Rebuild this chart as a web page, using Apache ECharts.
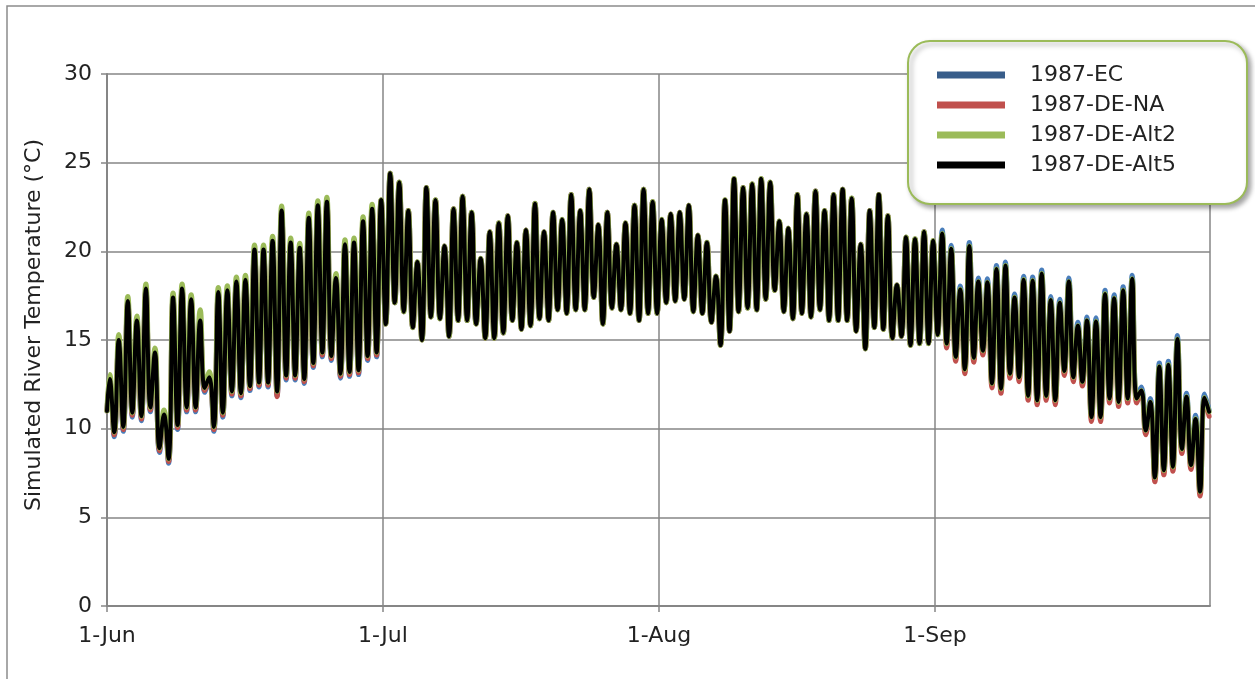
<!DOCTYPE html>
<html>
<head>
<meta charset="utf-8">
<script src="https://cdn.jsdelivr.net/npm/echarts@6/dist/echarts.min.js"></script>
<style>
html,body{margin:0;padding:0;background:#fff;}
#chart{width:1255px;height:679px;}
</style>
</head>
<body>
<div id="chart"></div>
<script>
// ---- DATA ----
const tickLabels = ['1-Jun', '1-Jul', '1-Aug', '1-Sep'];
const seriesNames = ['1987-EC', '1987-DE-NA', '1987-DE-Alt2', '1987-DE-Alt5'];
const startValue = 11.0;   // value at 1-Jun 00:00

// June: daily maxima / minima per series
const ecJunPeaks   = [12.7,14.9,17.1,16.0,17.8,14.2,10.7,17.3,17.8,17.2,16.0,12.8,17.6,17.7,18.2,18.3,20.0,20.0,20.5,22.2,20.4,20.1,21.8,22.5,22.7,18.4,20.3,20.4,21.6,22.3];
const naJunPeaks   = [12.75,14.95,17.15,16.05,17.85,14.25,10.75,17.35,17.85,17.25,16.05,12.85,17.65,17.75,18.25,18.35,20.05,20.05,20.55,22.25,20.45,20.15,21.85,22.55,22.75,18.45,20.35,20.45,21.65,22.35];
const alt2JunPeaks = [13.05,15.3,17.45,16.35,18.15,14.55,11.05,17.65,18.15,17.55,16.7,13.2,17.95,18.05,18.55,18.65,20.35,20.35,20.85,22.55,20.75,20.45,22.15,22.85,23.05,18.75,20.65,20.75,21.95,22.65];
const alt5JunPeaks = [12.8,15.0,17.2,16.1,17.9,14.3,10.8,17.4,17.9,17.3,16.1,12.9,17.7,17.8,18.3,18.4,20.1,20.1,20.6,22.3,20.5,20.2,21.9,22.6,22.8,18.5,20.4,20.5,21.7,22.4];

const ecJunTroughs   = [9.55,9.85,10.65,10.45,10.95,8.65,8.05,9.95,10.95,10.95,12.05,9.85,10.65,11.85,11.75,12.15,12.35,12.35,11.85,12.75,12.75,12.55,13.45,14.05,13.85,12.85,12.95,13.05,13.85,14.05];
const naJunTroughs   = [9.65,9.95,10.75,10.55,11.05,8.75,8.15,10.05,11.05,11.05,12.15,9.95,10.75,11.95,11.85,12.25,12.45,12.45,11.8,12.85,12.85,12.65,13.55,14.15,13.95,12.95,13.05,13.15,13.95,14.15];
const alt2JunTroughs = [9.8,10.1,10.9,10.7,11.2,8.9,8.3,10.2,11.2,11.2,12.3,10.1,10.9,12.1,12.0,12.4,12.6,12.6,12.1,13.0,13.0,12.8,13.7,14.3,14.1,13.1,13.2,13.3,14.1,14.3];
const alt5JunTroughs = [9.8,10.1,10.9,10.7,11.2,8.9,8.3,10.2,11.2,11.2,12.3,10.1,10.9,12.1,12.0,12.4,12.6,12.6,12.1,13.0,13.0,12.8,13.7,14.3,14.1,13.1,13.2,13.3,14.1,14.3];

// July - August: the four runs coincide
const julAugPeaks = [22.9,24.4,23.9,22.3,19.4,23.6,22.9,20.3,22.4,23.1,22.2,19.6,21.1,21.6,22.0,20.5,21.2,22.7,21.1,22.2,
  21.8,23.2,22.3,23.5,21.5,22.2,20.4,21.6,22.6,23.5,22.8,21.8,22.1,22.2,22.6,20.9,20.5,18.6,22.9,24.1,
  23.6,23.8,24.1,23.9,21.7,21.3,23.2,22.1,23.4,22.3,23.2,23.5,23.0,20.4,22.3,23.2,22.0,18.1,20.8,20.7,
  21.1,20.6];
const julAugTroughs = [15.9,17.1,16.6,15.7,15.0,16.3,16.2,15.2,16.1,16.1,15.9,15.1,15.1,15.4,16.1,15.6,15.8,16.2,16.1,16.7,
  16.5,16.7,16.7,17.4,15.9,16.8,16.7,16.5,16.1,16.5,16.5,17.1,17.2,17.3,16.6,16.5,16.0,14.7,15.5,16.6,
  16.8,16.7,17.3,17.8,16.6,16.2,16.5,16.3,16.7,16.1,16.1,16.1,15.5,14.5,15.7,15.6,15.1,15.2,14.7,14.8,
  14.8,15.3];

// September: daily maxima / minima per series
const ecSepPeaks   = [21.2,20.35,18.05,20.5,18.5,18.45,19.2,19.4,17.6,18.6,18.55,18.95,17.45,17.3,18.5,16.0,16.3,16.25,17.8,17.55,18.0,18.65,12.35,11.7,13.7,13.8,15.25,12.0,10.75,11.95];
const naSepPeaks   = [20.9,20.05,17.75,20.2,18.2,18.15,18.9,19.1,17.3,18.3,18.25,18.65,17.15,17.0,18.2,15.7,16.0,15.95,17.5,17.25,17.7,18.35,12.05,11.4,13.4,13.5,14.95,11.7,10.45,11.65];
const alt2SepPeaks = [21.0,20.15,17.85,20.3,18.3,18.25,19.0,19.2,17.4,18.4,18.35,18.75,17.25,17.1,18.3,15.8,16.1,16.05,17.6,17.35,17.8,18.45,12.15,11.5,13.5,13.6,15.05,11.8,10.55,11.75];
const alt5SepPeaks = [21.0,20.15,17.85,20.3,18.3,18.25,19.0,19.2,17.4,18.4,18.35,18.75,17.25,17.1,18.3,15.8,16.1,16.05,17.6,17.35,17.8,18.45,12.15,11.5,13.5,13.6,15.05,11.8,10.55,11.75];

const ecSepTroughs   = [14.9,14.15,13.45,14.1,14.5,12.65,12.35,13.2,13.0,11.95,11.7,11.95,11.7,13.35,13.0,12.75,10.75,10.75,11.8,11.6,11.8,11.8,10.0,7.35,7.75,7.95,8.95,8.05,6.55,11.05];
const naSepTroughs   = [14.55,13.8,13.1,13.75,14.15,12.3,12.0,12.85,12.65,11.6,11.35,11.6,11.35,13.0,12.65,12.4,10.4,10.4,11.45,11.25,11.45,11.45,9.65,7.0,7.4,7.6,8.6,7.7,6.2,10.7];
const alt2SepTroughs = [14.8,14.05,13.35,14.0,14.4,12.55,12.25,13.1,12.9,11.85,11.6,11.85,11.6,13.25,12.9,12.65,10.65,10.65,11.7,11.5,11.7,11.7,9.9,7.25,7.65,7.85,8.85,7.95,6.45,10.95];
const alt5SepTroughs = [14.8,14.05,13.35,14.0,14.4,12.55,12.25,13.1,12.9,11.85,11.6,11.85,11.6,13.25,12.9,12.65,10.65,10.65,11.7,11.5,11.7,11.7,9.9,7.25,7.65,7.85,8.85,7.95,6.45,10.95];

// timing of the daily maximum / minimum within each day (fraction of a day)
const peakTime = 0.3, troughTime = 0.8;

// ---- build series ----
function buildSeries(peaks, troughs) {
  const pts = [[0, startValue]];
  for (let i = 0; i < peaks.length; i++) {
    pts.push([i + peakTime, peaks[i]]);
    pts.push([i + troughTime, troughs[i]]);
  }
  return pts;
}
const seriesData = [
  buildSeries([...ecJunPeaks, ...julAugPeaks, ...ecSepPeaks], [...ecJunTroughs, ...julAugTroughs, ...ecSepTroughs]),
  buildSeries([...naJunPeaks, ...julAugPeaks, ...naSepPeaks], [...naJunTroughs, ...julAugTroughs, ...naSepTroughs]),
  buildSeries([...alt2JunPeaks, ...julAugPeaks, ...alt2SepPeaks], [...alt2JunTroughs, ...julAugTroughs, ...alt2SepTroughs]),
  buildSeries([...alt5JunPeaks, ...julAugPeaks, ...alt5SepPeaks], [...alt5JunTroughs, ...julAugTroughs, ...alt5SepTroughs])
];

const lineColors = ['#4A7EBB', '#C0504D', '#9BBB59', '#000000'];
const legendColors = ['#385D8A', '#C0504D', '#9BBB59', '#000000'];
const lineWidths = [5, 5, 5.2, 4];
const tickStep = 30.5;

const chart = echarts.init(document.getElementById('chart'), null, {renderer: 'canvas'});
const font = 'DejaVu Sans';
chart.setOption({
  animation: false,
  backgroundColor: '#ffffff',
  graphic: [{
    type: 'rect', shape: {x: 7, y: 6, width: 1300, height: 740},
    style: {fill: 'none', stroke: '#8c8c8c', lineWidth: 1.5}, silent: true, z: -10
  }],
  grid: {left: 107, right: 45, top: 74, bottom: 73},
  legend: {
    orient: 'vertical',
    left: 908, top: 41,
    padding: [22, 71, 27, 29],
    itemGap: 6,
    itemWidth: 68, itemHeight: 7,
    icon: 'rect',
    backgroundColor: '#ffffff',
    borderColor: '#9BBB59', borderWidth: 2, borderRadius: 22,
    shadowBlur: 5, shadowColor: 'rgba(0,0,0,0.35)', shadowOffsetX: 3, shadowOffsetY: 3,
    textStyle: {fontFamily: font, fontSize: 22, color: '#222', padding: [0, 0, 0, 20], lineHeight: 24},
    data: seriesNames.map((n, i) => ({name: n, itemStyle: {color: legendColors[i]}}))
  },
  xAxis: {
    type: 'value', min: 0, max: 121.9, interval: tickStep,
    axisLine: {show: true, onZero: false, lineStyle: {color: '#868686', width: 2}},
    axisTick: {show: true, inside: false, length: 6, lineStyle: {color: '#868686', width: 1.5}},
    splitLine: {show: true, lineStyle: {color: '#868686', width: 1.5}},
    axisLabel: {
      fontFamily: font, fontSize: 22, color: '#222', margin: 19, showMaxLabel: false,
      formatter: v => tickLabels[Math.round(v / tickStep)] || ''
    }
  },
  yAxis: {
    type: 'value', min: 0, max: 30, interval: 5,
    name: 'Simulated River Temperature (°C)',
    nameLocation: 'middle', nameRotate: 90, nameGap: 62,
    nameTextStyle: {fontFamily: font, fontSize: 22, color: '#222', padding: [0, 0, 0, 30]},
    axisLine: {show: true, lineStyle: {color: '#868686', width: 2}},
    axisTick: {show: true, inside: false, length: 6, lineStyle: {color: '#868686', width: 1.5}},
    splitLine: {show: true, lineStyle: {color: '#868686', width: 1.5}},
    axisLabel: {fontFamily: font, fontSize: 22, color: '#222', margin: 15}
  },
  series: seriesNames.map((n, i) => ({
    name: n, type: 'line', data: seriesData[i], smooth: 0.45,
    showSymbol: false, symbol: 'none',
    color: lineColors[i],
    lineStyle: {color: lineColors[i], width: lineWidths[i], join: 'round', cap: 'round'},
    z: 2 + i
  }))
});
</script>
</body>
</html>
